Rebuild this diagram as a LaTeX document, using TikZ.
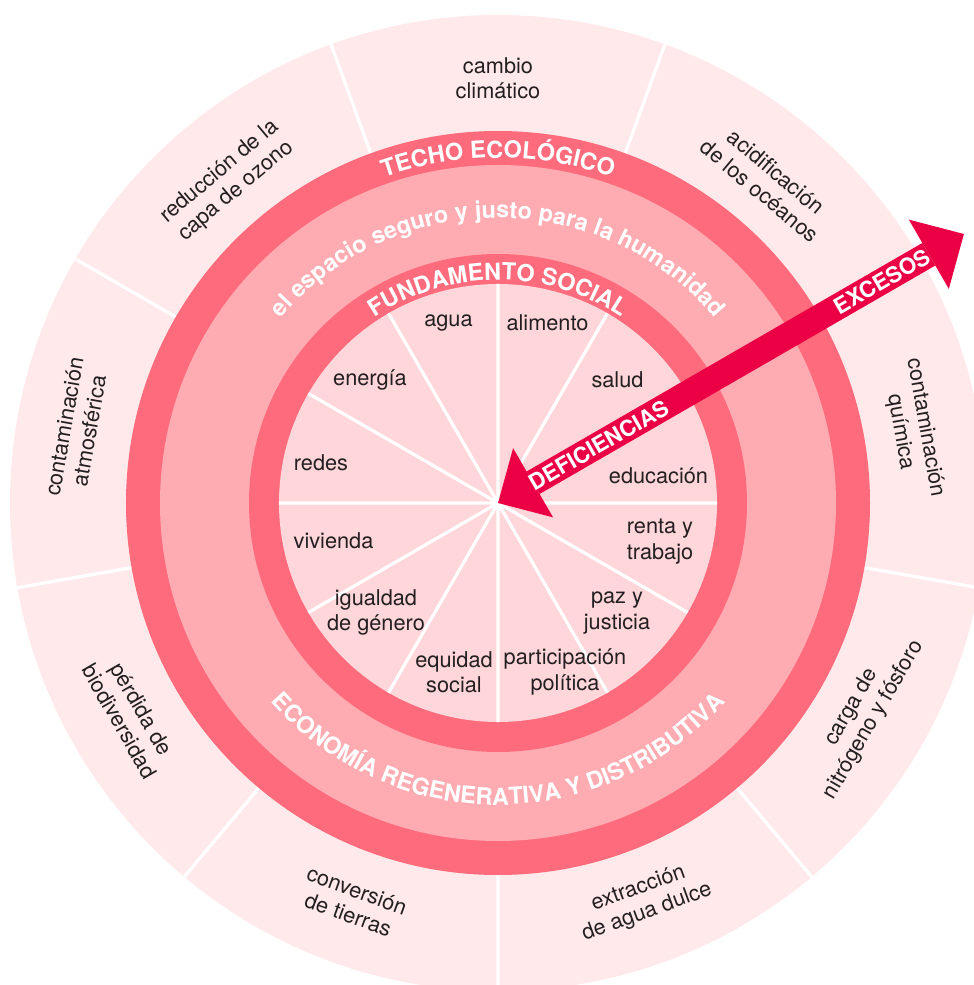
\documentclass[tikz,border=0pt]{standalone}
\usepackage{fontspec}
\setmainfont{TeX Gyre Heros}
\usetikzlibrary{arrows.meta,decorations.text}
\definecolor{boundary}{HTML}{FFE9EB}
\definecolor{ring}{HTML}{FE6B7C}
\definecolor{space}{HTML}{FFABB2}
\definecolor{core}{HTML}{FFD6D9}
\definecolor{arrowred}{HTML}{EB0046}
\definecolor{ink}{HTML}{231F20}
\newcommand\lblfont{\fontsize{16.3}{19}\selectfont}
\newcommand\bandfont{\fontsize{17.6}{20}\selectfont\bfseries}
\tikzset{
  lbl/.style={
      align=center,
      inner sep=0pt,
      text=ink,
      font=\lblfont
  },
  band/.style={
      decorate,
      decoration={text along path, text color=white, text align=center, text={|\bandfont|#1}}
  },
  divider/.style={white, line width=2.4pt},
  tag/.style={
      text=white,
      inner sep=0pt,
      rotate=30,
      font=\fontsize{16.7}{20}\selectfont\bfseries
  },
  spike/.tip={Triangle[length=30.4pt, width=60pt, line width=0pt]}
}

\begin{document}
\begin{tikzpicture}[x=0.75pt,y=0.75pt]
    \useasboundingbox (-498,-482) rectangle (476,503);
    \fill[boundary] (0,0) circle[radius=488];
    \draw[divider] (30:372) -- (30:492) (70:372) -- (70:492) (110:372) -- (110:492)
        (150:372) -- (150:492) (190:372) -- (190:492) (230:372) -- (230:492)
        (270:372) -- (270:492) (310:372) -- (310:492) (350:372) -- (350:492);
    \fill[ring] (0,0) circle[radius=372];
    \fill[space] (0,0) circle[radius=338];
    \fill[ring] (0,0) circle[radius=249];
    \fill[core] (0,0) circle[radius=219];
    \draw[divider] (0:219) -- (180:219) (30:219) -- (210:219) (60:219) -- (240:219)
        (90:219) -- (270:219) (120:219) -- (300:219) (150:219) -- (330:219);

    \path[band=TECHO ECOLÓGICO] (150:345) arc[start angle=150, end angle=30, radius=345];
    \path[band=el espacio seguro y justo para la humanidad] (170:285) arc[start angle=170, end angle=10, radius=285];
    \path[band=FUNDAMENTO SOCIAL] (160:223) arc[start angle=160, end angle=20, radius=223];
    \path[band=ECONOMÍA REGENERATIVA Y DISTRIBUTIVA] (190:302) arc[start angle=190, end angle=350, radius=302];

    \node[lbl] (agua) at (-49.5,180) {agua};
    \node[lbl] (alimento) at (49.5,180) {alimento};
    \node[lbl] (energia) at (-128,123) {energía};
    \node[lbl] (salud) at (119.5,123) {salud};
    \node[lbl] (redes) at (-177,40) {redes};
    \node[lbl] (educacion) at (160.5,27) {educación};
    \node[lbl] (vivienda) at (-164.5,-38) {vivienda};
    \node[lbl] (renta) at (162,-38.5) {renta y\\trabajo};
    \node[lbl] (igualdad) at (-122,-109.5) {igualdad\\de género};
    \node[lbl] (paz) at (119,-110) {paz y\\justicia};
    \node[lbl] (equidad) at (-44,-169) {equidad\\social};
    \node[lbl] (participacion) at (67,-169) {participación\\política};

    \node[lbl] (clima) at (90:425) {cambio\\climático};
    \node[lbl, rotate=-40] (oceanos) at (50:420) {acidificación\\de los océanos};
    \node[lbl, rotate=-80] (quimica) at (10:421) {contaminación\\química};
    \node[lbl, rotate=60] (nitrogeno) at (330:421) {carga de\\nitrógeno y fósforo};
    \node[lbl, rotate=20] (aguadulce) at (290:423) {extracción\\de agua dulce};
    \node[lbl, rotate=-20] (tierras) at (250:425) {conversión\\de tierras};
    \node[lbl, rotate=-60] (biodiv) at (210:424) {pérdida de\\biodiversidad};
    \node[lbl, rotate=80] (atmos) at (170:428) {contaminación\\atmosférica};
    \node[lbl, rotate=40] (ozono) at (130:420) {reducción de la\\capa de ozono};

    \coordinate (ctr) at (0,0);
    \coordinate (xs) at (30:538);
    \draw[arrowred, line width=19.5pt, {spike}-{spike}] (ctr) -- (xs);
    \node[tag] (defic) at (30:116) {DEFICIENCIAS};
    \node[tag] (exces) at (30:443) {EXCESOS};
\end{tikzpicture}
\end{document}
